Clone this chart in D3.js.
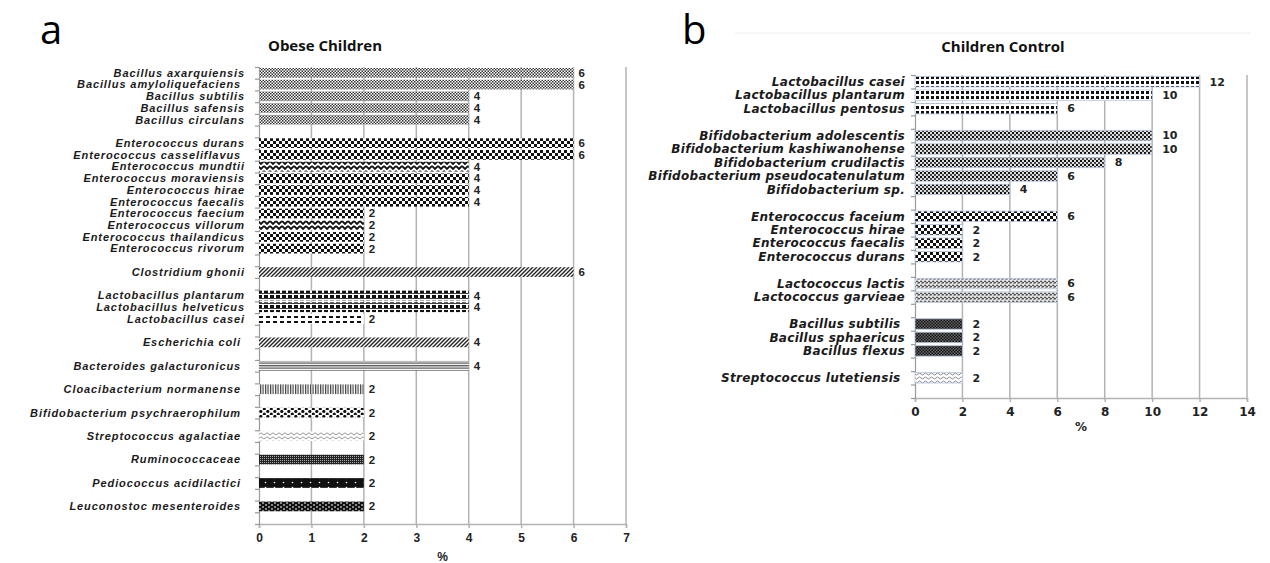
<!DOCTYPE html>
<html><head><meta charset="utf-8">
<script src="https://cdn.jsdelivr.net/npm/d3@7"></script>
<style>
html,body{margin:0;padding:0;background:#fff;}
svg{display:block;}
text{white-space:pre;}
</style></head>
<body>
<svg id="c" width="1270" height="563"></svg>
<script>
// ---------- DATA ----------
const catsA = ["Bacillus axarquiensis","Bacillus amyloliquefaciens ","Bacillus subtilis","Bacillus safensis","Bacillus circulans","",
"Enterococcus durans","Enterococcus casseliflavus ","Enterococcus mundtii","Enterococcus moraviensis","Enterococcus hirae","Enterococcus faecalis","Enterococcus faecium","Enterococcus villorum","Enterococcus thailandicus","Enterococcus rivorum","",
"Clostridium ghonii","",
"Lactobacillus plantarum","Lactobacillus helveticus","Lactobacillus casei","",
"Escherichia coli ","",
"Bacteroides galacturonicus ","",
"Cloacibacterium normanense ","",
"Bifidobacterium psychraerophilum ","",
"Streptococcus agalactiae ","",
"Ruminococcaceae ","",
"Pediococcus acidilactici ","",
"Leuconostoc mesenteroides ",""];
const valsA = [6,6,4,4,4,null, 6,6,4,4,4,4,2,2,2,2,null, 6,null, 4,4,2,null, 4,null, 4,null, 2,null, 2,null, 2,null, 2,null, 2,null, 2,null];
const patA = ["bacA","bacA","bacA","bacA","bacA",null,"entA","entA","entB","entA","entA","entA","entA","entB","entA","entA",null,"diag",null,"lacA","lacA","lacC",null,"diag",null,"hlin",null,"vlin",null,"bifA",null,"zig",null,"rum",null,"ped",null,"leu",null];
const ticksA = [0,1,2,3,4,5,6,7];

const catsB = ["Lactobacillus casei","Lactobacillus plantarum","Lactobacillus pentosus","",
"Bifidobacterium adolescentis","Bifidobacterium kashiwanohense","Bifidobacterium crudilactis","Bifidobacterium pseudocatenulatum","Bifidobacterium sp.","",
"Enterococcus faceium","Enterococcus hirae","Enterococcus faecalis","Enterococcus durans","",
"Lactococcus lactis","Lactococcus garvieae","",
"Bacillus subtilis ","Bacillus sphaericus","Bacillus flexus","",
"Streptococcus lutetiensis ",""];
const valsB = [12,10,6,null, 10,10,8,6,4,null, 6,2,2,2,null, 6,6,null, 2,2,2,null, 2,null];
const patB = ["lacB","lacB","lacB",null,"bifB","bifB","bifB","bifB","bifB",null,"entA","entA","entA","entA",null,"lcc","lcc",null,"bacB","bacB","bacB",null,"wave",null];
const ticksB = [0,2,4,6,8,10,12,14];

// ---------- PATTERNS ----------
const svg = d3.select("#c");
const defs = svg.append("defs");
function pat(id, w, h, bg, draw){
  const p = defs.append("pattern").attr("id",id).attr("patternUnits","userSpaceOnUse").attr("width",w).attr("height",h);
  p.append("rect").attr("width",w).attr("height",h).attr("fill",bg);
  draw(p);
}
pat("bacA",3,3,"#fff",p=>{p.append("rect").attr("width",1.5).attr("height",1.5).attr("fill","#333");p.append("rect").attr("x",1.5).attr("y",1.5).attr("width",1.5).attr("height",1.5).attr("fill","#333");});
pat("entA",6,6,"#fff",p=>{p.append("rect").attr("width",3).attr("height",3).attr("fill","#111");p.append("rect").attr("x",3).attr("y",3).attr("width",3).attr("height",3).attr("fill","#111");});
pat("entB",6,5,"#fff",p=>{p.append("path").attr("d","M0,1 L3,4 L6,1").attr("stroke","#111").attr("stroke-width",1.8).attr("fill","none");});
pat("diag",4,4,"#fff",p=>{p.append("path").attr("d","M-1,1 L1,-1 M0,4 L4,0 M3,5 L5,3").attr("stroke","#222").attr("stroke-width",1.4);});
pat("lacA",6,5,"#fff",p=>{p.append("rect").attr("x",0).attr("y",0).attr("width",4).attr("height",3).attr("fill","#111");p.append("rect").attr("x",0).attr("y",3).attr("width",6).attr("height",0.8).attr("fill","#111");});
pat("lacC",7,5,"#fff",p=>{p.append("rect").attr("x",0).attr("y",1).attr("width",4).attr("height",2).attr("fill","#111");});
pat("hlin",3,2.5,"#fff",p=>{p.append("rect").attr("y",0).attr("width",3).attr("height",1.3).attr("fill","#555");});
pat("vlin",2.5,3,"#fff",p=>{p.append("rect").attr("x",0).attr("width",1.2).attr("height",3).attr("fill","#444");});
pat("bifA",7,5,"#fff",p=>{p.append("circle").attr("cx",1.8).attr("cy",1.5).attr("r",1.6).attr("fill","#111");p.append("circle").attr("cx",5.3).attr("cy",4).attr("r",1.6).attr("fill","#111");});
pat("zig",6,4,"#fff",p=>{p.append("path").attr("d","M0,3 L3,0.8 L6,3").attr("stroke","#999").attr("stroke-width",1).attr("fill","none");});
pat("rum",2,2,"#222",p=>{p.append("rect").attr("width",1).attr("height",1).attr("fill","#aaa");});
pat("ped",9,5,"#111",p=>{p.append("circle").attr("cx",4.5).attr("cy",2.5).attr("r",0.8).attr("fill","#fff");});
pat("leu",6,4,"#111",p=>{p.append("rect").attr("x",1).attr("y",0.5).attr("width",2).attr("height",1).attr("fill","#fff");p.append("rect").attr("x",4).attr("y",2.5).attr("width",2).attr("height",1).attr("fill","#fff");});
pat("lacB",5,5,"#fff",p=>{p.append("rect").attr("x",1).attr("y",1).attr("width",3).attr("height",3).attr("fill","#111");});
pat("bifB",4,4,"#ddd",p=>{p.append("rect").attr("width",2).attr("height",2).attr("fill","#111");p.append("rect").attr("x",2).attr("y",2).attr("width",2).attr("height",2).attr("fill","#444");});
pat("lcc",4,4,"#eee",p=>{p.append("path").attr("d","M0,2 Q1,0 2,2 T4,2").attr("stroke","#444").attr("stroke-width",1.1).attr("fill","none");p.append("rect").attr("x",1.5).attr("y",3).attr("width",1).attr("height",1).attr("fill","#666");});
pat("bacB",3,3,"#666",p=>{p.append("rect").attr("width",1.5).attr("height",1.5).attr("fill","#111");p.append("rect").attr("x",1.5).attr("y",1.5).attr("width",1.5).attr("height",1.5).attr("fill","#111");});
pat("wave",6,4,"#fff",p=>{p.append("path").attr("d","M0,2 Q1.5,0 3,2 T6,2").attr("stroke","#888").attr("stroke-width",1).attr("fill","none");});

// ---------- PANEL DRAW ----------
function panel(o){
  const g = svg.append("g");
  const n = o.cats.length;
  const x = d3.scaleLinear().domain([o.ticks[0], o.ticks[o.ticks.length-1]]).range([o.x0,o.x1]);
  const y = d3.scaleBand().domain(d3.range(n)).range([o.y0,o.y1]).paddingInner(o.pad).paddingOuter(o.pad/2);
  const yb = d3.scaleLinear().domain([0,n]).range([o.y0,o.y1]);

  // gridlines
  g.append("g").selectAll("line").data(o.ticks.slice(1)).join("line")
    .attr("x1",d=>x(d)).attr("x2",d=>x(d)).attr("y1",o.y0).attr("y2",o.y1)
    .attr("stroke","#b3b3b3").attr("stroke-width",1.5);

  // x axis
  const xa = g.append("g").attr("transform",`translate(0,${o.y1})`)
    .call(d3.axisBottom(x).tickValues(o.ticks).tickFormat(d3.format("d")).tickSize(4).tickPadding(5));
  xa.select(".domain").attr("stroke","#b3b3b3").attr("stroke-width",1.5);
  xa.selectAll(".tick line").attr("stroke","#b3b3b3").attr("stroke-width",1.5);
  xa.selectAll("text").attr("font-family",o.font).attr("font-weight","bold").attr("font-size",o.tickSize).attr("fill","#222");

  // y axis boundary ticks
  const ya = g.append("g").attr("transform",`translate(${o.x0},0)`)
    .call(d3.axisLeft(yb).tickValues(d3.range(n+1)).tickSize(4).tickFormat(""));
  ya.select(".domain").attr("stroke","#9a9a9a").attr("stroke-width",1.2);
  ya.selectAll(".tick line").attr("stroke","#9a9a9a").attr("stroke-width",1.2);

  // category labels
  g.append("g").selectAll("text").data(o.cats).join("text")
    .attr("x",o.x0-o.labGap).attr("y",(d,i)=>y(i)+y.bandwidth()/2).attr("dy","0.35em")
    .attr("text-anchor","end").attr("font-family",o.font).attr("font-style","italic").attr("font-weight","bold")
    .attr("font-size",o.labSize).attr("letter-spacing",o.labSpacing).attr("fill","#1a1a1a").text(d=>d);

  // bars
  const idx = d3.range(n).filter(i=>o.vals[i]!=null);
  g.append("g").selectAll("rect").data(idx).join("rect")
    .attr("x",x(0)).attr("y",i=>y(i)).attr("width",i=>x(o.vals[i])-x(0)).attr("height",y.bandwidth())
    .attr("fill",i=>`url(#${o.pats[i]})`).attr("stroke",o.barStroke).attr("stroke-width",0.8);

  // value labels
  g.append("g").selectAll("text").data(idx).join("text")
    .attr("x",i=>x(o.vals[i])+o.valGap).attr("y",i=>y(i)+y.bandwidth()/2).attr("dy","0.35em")
    .attr("font-family",o.font).attr("font-weight","bold").attr("font-size",o.valSize).attr("fill","#222")
    .text(i=>o.vals[i]);

  // axis title
  g.append("text").attr("x",(o.x0+o.x1)/2).attr("y",o.pctY).attr("text-anchor","middle")
    .attr("font-family",o.font).attr("font-weight","bold").attr("font-size",o.tickSize).attr("fill","#222").text("%");
  // chart title
  g.append("text").attr("x",o.titleX).attr("y",o.titleY).attr("text-anchor","middle")
    .attr("font-family","Open Sans, Liberation Sans, sans-serif").attr("font-weight","bold").attr("font-size",15).attr("fill","#111").text(o.title);
  // panel letter
  g.append("text").attr("x",o.letX).attr("y",o.letY)
    .attr("font-family","Open Sans, Liberation Sans, sans-serif").attr("font-size",40).attr("fill","#000").text(o.letter);
}

// faint divider line at top of panel b
svg.append("line").attr("x1",735).attr("x2",1250).attr("y1",33).attr("y2",33).attr("stroke","#eee").attr("stroke-width",1);

panel({cats:catsA, vals:valsA, pats:patA, ticks:ticksA, x0:259, x1:626, y0:67, y1:524, pad:0.17,
  font:"Liberation Sans, Arial, sans-serif", labSize:11, labSpacing:0.9, labGap:14, tickSize:12, valSize:11.5, valGap:5,
  barStroke:"none", pctY:561, title:"Obese Children", titleX:325, titleY:51, letter:"a", letX:40, letY:44});
panel({cats:catsB, vals:valsB, pats:patB, ticks:ticksB, x0:915, x1:1247, y0:75, y1:398, pad:0.22,
  font:"DejaVu Sans, Verdana, sans-serif", labSize:12, labSpacing:0.3, labGap:10, tickSize:12, valSize:11, valGap:10,
  barStroke:"#b9c9e6", pctY:431, title:"Children Control", titleX:1003, titleY:52, letter:"b", letX:682, letY:44});
</script>
</body></html>
